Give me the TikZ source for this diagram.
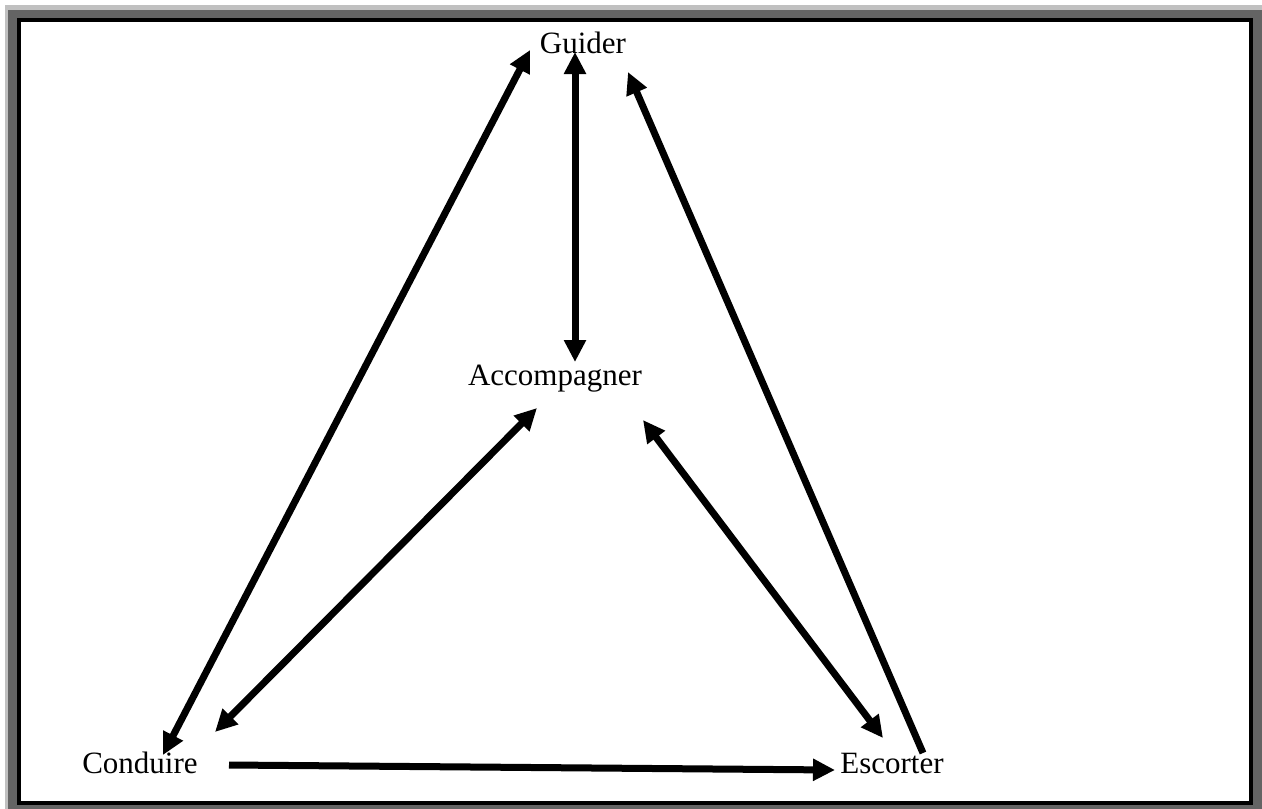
\documentclass[tikz,border=0pt]{standalone}
\usepackage{fontspec}
\setmainfont{Liberation Serif}
\usetikzlibrary{arrows.meta}
\definecolor{lightframe}{HTML}{C0C0C0}
\definecolor{darkframe}{HTML}{646464}
\begin{document}
\begin{tikzpicture}[x=1pt,y=-1pt,
  lbl/.style={anchor=base,inner sep=0pt,font=\fontsize{31}{36}\selectfont},
  conn/.style={line width=7pt,-{Triangle[length=22pt,width=21pt]}},
  conn2/.style={line width=7pt,{Triangle[length=22pt,width=21pt]}-{Triangle[length=22pt,width=21pt]}}]
\useasboundingbox (0,0) rectangle (1262,809);
% frame
\fill[lightframe] (5,5) rectangle (1262,809);
\fill[darkframe] (8,10) rectangle (1262,809);
\fill[white] (17,18) rectangle (1253,805);
\draw[line width=4pt] (19,20) rectangle (1251,803);
% labels
\node[lbl] (guider) at (583,53) {Guider};
\node[lbl] (accomp) at (555,385) {Accompagner};
\node[lbl] (conduire) at (140,773) {Conduire};
\node[lbl] (escorter) at (892,773) {Escorter};
% connector ends
\coordinate (gL) at (530,50);
\coordinate (gM) at (575,52);
\coordinate (gR) at (628,72);
\coordinate (aT) at (575,362);
\coordinate (aL) at (537,408);
\coordinate (aR) at (643,420);
\coordinate (cT) at (163,755);
\coordinate (cR) at (215,732);
\coordinate (cE) at (229,765);
\coordinate (eL) at (835,770);
\coordinate (eT) at (883,738);
\coordinate (eG) at (923,753);
% connectors
\draw[conn2] (cT) -- (gL);
\draw[conn2] (aT) -- (gM);
\draw[conn] (eG) -- (gR);
\draw[conn2] (cR) -- (aL);
\draw[conn2] (eT) -- (aR);
\draw[conn] (cE) -- (eL);
\end{tikzpicture}
\end{document}
